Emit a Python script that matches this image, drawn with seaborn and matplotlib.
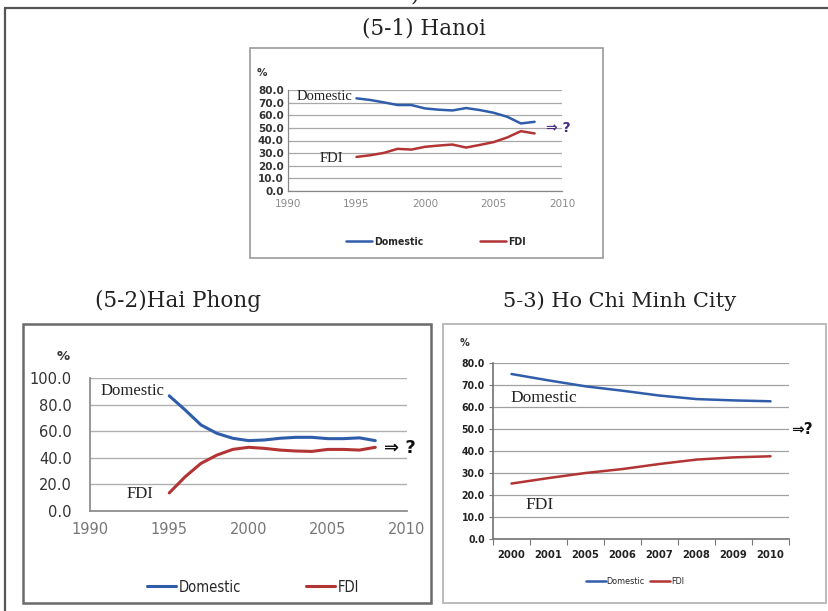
import matplotlib
matplotlib.use("Agg")
import matplotlib.pyplot as plt
import seaborn as sns
import pandas as pd
from matplotlib.patches import Rectangle
from matplotlib.lines import Line2D
from matplotlib.ticker import FixedLocator

# ---- data: share of industrial output (%) by ownership ----
hanoi_years = [1995, 1996, 1997, 1998, 1999, 2000, 2001, 2002, 2003, 2004, 2005, 2006, 2007, 2008]
hanoi_domestic = [73.4, 72.1, 70.2, 68.1, 68.1, 65.4, 64.4, 63.8, 65.7, 64.1, 62.0, 58.8, 53.5, 54.8]
hanoi_fdi = [27.0, 28.3, 30.2, 33.4, 32.8, 35.0, 36.0, 36.8, 34.4, 36.5, 38.7, 42.4, 47.4, 45.6]

haiphong_years = [1995, 1996, 1997, 1998, 1999, 2000, 2001, 2002, 2003, 2004, 2005, 2006, 2007, 2008]
haiphong_domestic = [86.6, 76.0, 64.7, 58.4, 54.7, 52.9, 53.4, 54.7, 55.4, 55.4, 54.4, 54.4, 55.0, 52.9]
haiphong_fdi = [13.6, 25.7, 35.8, 42.0, 46.3, 47.9, 47.1, 45.8, 45.1, 44.8, 46.3, 46.3, 45.8, 47.9]

hcmc_years = ["2000", "2001", "2005", "2006", "2007", "2008", "2009", "2010"]
hcmc_domestic = [75.0, 72.1, 69.4, 67.4, 65.2, 63.6, 63.0, 62.6]
hcmc_fdi = [25.2, 27.7, 30.0, 31.8, 34.1, 36.1, 37.1, 37.6]

series_names = ["Domestic", "FDI"]
palette = {"Domestic": "#2F5DAA", "FDI": "#B23434"}

W, H = 829, 611
sns.set_theme(style="white")
plt.rcParams["font.family"] = ["DejaVu Sans"]

fig = plt.figure(figsize=(W / 100, H / 100), dpi=100)
fig.patch.set_facecolor("white")

NARROW = ["Liberation Sans Narrow", "DejaVu Sans"]
SERIF = ["Liberation Serif", "DejaVu Serif"]


def fx(x):
    return x / W


def fy(y):
    return 1 - y / H


def axes_at(x0, y0, x1, y1):
    return fig.add_axes([fx(x0), fy(y1), (x1 - x0) / W, (y1 - y0) / H])


def frame(x0, y0, x1, y1, color, lw):
    fig.patches.append(Rectangle((fx(x0), fy(y1)), (x1 - x0) / W, (y1 - y0) / H,
                                 transform=fig.transFigure, fill=False,
                                 edgecolor=color, linewidth=lw, zorder=0))


def long_df(x, dom, fdi):
    return pd.DataFrame({
        "year": list(x) * 2,
        "share": list(dom) + list(fdi),
        "series": [series_names[0]] * len(x) + [series_names[1]] * len(x),
    })


def legend_at(cx, cy, lw, prop, handlelength, pad, colspace):
    handles = [Line2D([], [], color=palette[s], lw=lw) for s in series_names]
    fig.legend(handles, series_names, loc="center", bbox_to_anchor=(fx(cx), fy(cy)),
               ncol=2, frameon=False, prop=prop, handlelength=handlelength,
               handletextpad=pad, columnspacing=colspace, borderpad=0, borderaxespad=0)


# ---- outer page frame ----
fig.add_artist(Line2D([fx(5), fx(5)], [0, fy(8)], transform=fig.transFigure, color="#555555", lw=1.6))
fig.add_artist(Line2D([fx(5), 1], [fy(8), fy(8)], transform=fig.transFigure, color="#555555", lw=1.6))
fig.text(fx(415), fy(6), ")", family="DejaVu Serif", fontsize=15.5, ha="center", va="bottom", color="#222222")

# ---- panel titles ----
title_kw = dict(family="DejaVu Serif", fontsize=15.5, color="#222222", ha="center", va="center")
fig.text(fx(424), fy(28), "(5-1) Hanoi", **title_kw)
fig.text(fx(178), fy(301), "(5-2)Hai Phong", **title_kw)
fig.text(fx(620), fy(301), "5-3) Ho Chi Minh City", family="DejaVu Serif", fontsize=15,
         color="#222222", ha="center", va="center")

# ---- panel frames ----
frame(250, 48, 603, 258, "#9A9A9A", 1.2)
frame(23, 324, 431, 603, "#6A6A6A", 1.8)
frame(443, 324, 826, 603, "#BBBBBB", 1.4)

# ================= (5-1) Hanoi =================
ax1 = axes_at(288, 90, 562, 191)
sns.lineplot(data=long_df(hanoi_years, hanoi_domestic, hanoi_fdi), x="year", y="share",
             hue="series", palette=palette, linewidth=1.8, legend=False, ax=ax1)
ax1.set_xlim(1990, 2010)
ax1.set_ylim(0, 80)
ax1.set_yticks(range(0, 81, 10))
ax1.set_yticklabels([f"{v:.1f}" for v in range(0, 81, 10)])
ax1.set_xticks(range(1990, 2011, 5))
ax1.yaxis.grid(True, color="#A8A8A8", lw=0.9)
ax1.set_axisbelow(True)
for s in ["top", "right"]:
    ax1.spines[s].set_visible(False)
ax1.spines["left"].set_color("#888888")
ax1.spines["bottom"].set_color("#888888")
ax1.spines["left"].set_linewidth(0.9)
ax1.spines["bottom"].set_linewidth(0.9)
ax1.tick_params(axis="y", length=0, pad=3, labelsize=7.5, labelcolor="#333333")
ax1.tick_params(axis="x", length=0, pad=6, labelsize=7.5, labelcolor="#8A8A8A")
for lab in ax1.get_yticklabels():
    lab.set_fontweight("bold")
ax1.set_xlabel("")
ax1.set_ylabel("")
ax1.set_facecolor("white")
fig.text(fx(262), fy(73), "%", fontsize=7.5, fontweight="bold", color="#333333", ha="center", va="center")
fig.text(fx(324), fy(97), "Domestic", family=SERIF, fontsize=10.5, color="#222222", ha="center", va="center")
fig.text(fx(331), fy(159), "FDI", family=SERIF, fontsize=10.5, color="#222222", ha="center", va="center")
fig.text(fx(558), fy(128), "⇒ ?", fontsize=10, fontweight="bold", color="#4B2E83", ha="center", va="center")
legend_at(436, 242, 1.8, {"family": NARROW, "size": 7.5, "weight": "bold", "stretch": "condensed"},
          2.5, 0.2, 5.5)

# ================= (5-2) Hai Phong =================
ax2 = axes_at(90, 378, 407, 511)
sns.lineplot(data=long_df(haiphong_years, haiphong_domestic, haiphong_fdi), x="year", y="share",
             hue="series", palette=palette, linewidth=2.2, legend=False, ax=ax2)
ax2.set_xlim(1990, 2010)
ax2.set_ylim(0, 100)
ax2.set_yticks(range(0, 101, 20))
ax2.set_yticklabels([f"{v:.1f}" for v in range(0, 101, 20)])
ax2.set_xticks(range(1990, 2011, 5))
ax2.yaxis.grid(True, color="#B0B0B0", lw=1.0)
ax2.set_axisbelow(True)
for s in ["top", "right"]:
    ax2.spines[s].set_visible(False)
ax2.spines["left"].set_color("#8A8A8A")
ax2.spines["bottom"].set_color("#8A8A8A")
ax2.tick_params(axis="y", length=0, pad=13, labelsize=10.5, labelcolor="#333333")
ax2.tick_params(axis="x", length=0, pad=8, labelsize=10.5, labelcolor="#777777")
ax2.set_xlabel("")
ax2.set_ylabel("")
fig.text(fx(63), fy(357), "%", fontsize=9.5, fontweight="bold", color="#333333", ha="center", va="center")
fig.text(fx(132), fy(391), "Domestic", family=SERIF, fontsize=12, color="#222222", ha="center", va="center")
fig.text(fx(140), fy(494), "FDI", family=SERIF, fontsize=12, color="#222222", ha="center", va="center")
fig.text(fx(400), fy(448), "⇒ ?", fontsize=13, fontweight="bold", color="#111111", ha="center", va="center")
legend_at(253, 587, 2.2, {"family": NARROW, "size": 10.5, "stretch": "condensed"}, 2.0, 0.15, 4.5)

# ================= (5-3) Ho Chi Minh City =================
ax3 = axes_at(493, 363, 789, 539)
sns.lineplot(data=long_df(hcmc_years, hcmc_domestic, hcmc_fdi), x="year", y="share",
             hue="series", palette=palette, linewidth=1.8, legend=False, sort=False, ax=ax3)
ax3.set_xlim(-0.5, len(hcmc_years) - 0.5)
ax3.set_ylim(0, 80)
ax3.set_yticks(range(0, 81, 10))
ax3.set_yticklabels([f"{v:.1f}" for v in range(0, 81, 10)])
ax3.xaxis.set_minor_locator(FixedLocator([i - 0.5 for i in range(len(hcmc_years) + 1)]))
ax3.yaxis.grid(True, color="#A0A0A0", lw=0.9)
ax3.set_axisbelow(True)
for s in ["top", "right"]:
    ax3.spines[s].set_visible(False)
ax3.spines["left"].set_color("#777777")
ax3.spines["bottom"].set_color("#777777")
ax3.tick_params(axis="y", which="major", left=True, length=3, width=0.8, color="#777777",
                pad=3, labelsize=7.5, labelcolor="#222222")
ax3.tick_params(axis="x", which="major", bottom=True, length=0, pad=8, labelsize=8, labelcolor="#222222")
ax3.tick_params(axis="x", which="minor", bottom=True, length=4, width=0.8, color="#777777")
for lab in ax3.get_xticklabels() + ax3.get_yticklabels():
    lab.set_family(NARROW)
    lab.set_fontweight("bold")
    lab.set_fontstretch("condensed")
ax3.set_xlabel("")
ax3.set_ylabel("")
fig.text(fx(465), fy(343), "%", fontsize=7, fontweight="bold", color="#333333", ha="center", va="center")
fig.text(fx(544), fy(398), "Domestic", family=SERIF, fontsize=12.5, color="#222222", ha="center", va="center")
fig.text(fx(540), fy(505), "FDI", family=SERIF, fontsize=12.5, color="#222222", ha="center", va="center")
fig.text(fx(802), fy(430), "⇒?", fontsize=11, fontweight="bold", color="#111111", ha="center", va="center")
legend_at(635, 582, 1.8, {"family": NARROW, "size": 6.5, "stretch": "condensed"}, 2.2, 0.1, 0.6)

fig.savefig("out.png", dpi=100, facecolor="white")
